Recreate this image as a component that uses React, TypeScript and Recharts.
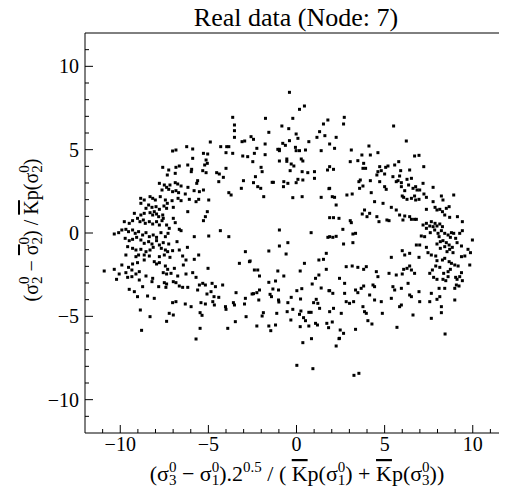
import React from "react";
import { ScatterChart, Scatter, XAxis, YAxis } from "recharts";

// values, grouped by part of the ring
const leftArc: [number, number][] = [
  [-7.03, 4.92], [-6.84, 4.98], [-5.89, 4.48], [-5.28, 4.78], [-5.04, 4.74], [-5.13, 4.38], [-5.21, 4.08], [-5.06, 4.18],
  [-4.0, 4.82], [-3.62, 4.78], [-3.05, 4.62], [-2.77, 4.58],
  [-7.59, 3.94], [-7.25, 3.78], [-6.84, 3.94], [-6.65, 4.02], [-6.17, 4.08], [-5.95, 3.82], [-5.97, 3.68], [-5.32, 3.74],
  [-5.13, 3.62], [-4.53, 3.62], [-4.38, 3.54], [-4.0, 3.88], [-7.33, 3.48], [-6.88, 3.58], [-5.61, 3.14], [-5.66, 2.98],
  [-4.41, 3.08], [-4.15, 3.34], [-3.01, 3.14], [-3.13, 2.68],
  [-7.78, 2.98], [-7.5, 2.88], [-7.37, 2.74], [-7.18, 2.88], [-6.88, 3.02], [-6.74, 2.94], [-6.55, 2.82], [-7.63, 2.58],
  [-7.25, 2.62], [-7.03, 2.48], [-6.84, 2.54], [-6.69, 2.42], [-6.31, 2.34], [-6.16, 2.74], [-5.81, 2.54], [-5.51, 2.48],
  [-5.28, 2.58], [-3.84, 2.42], [-3.71, 2.28],
  [-8.84, 2.08], [-8.64, 1.98], [-8.31, 2.18], [-8.16, 2.08], [-8.01, 1.98], [-7.73, 2.18], [-7.44, 1.98], [-7.33, 1.78],
  [-7.06, 1.94], [-6.72, 2.08], [-6.55, 1.94], [-6.08, 2.02], [-5.7, 1.88], [-5.55, 2.02], [-4.98, 1.98],
  [-8.83, 1.78], [-8.54, 1.48], [-8.39, 1.68], [-8.2, 1.54], [-7.97, 1.58], [-7.78, 1.42], [-7.52, 1.62], [-7.37, 1.48],
  [-6.99, 1.54], [-6.17, 1.28], [-5.06, 1.28],
  [-9.2, 1.18], [-8.83, 1.08], [-8.64, 1.18], [-8.31, 1.22], [-8.16, 1.08], [-8.07, 1.28], [-7.94, 1.14], [-7.82, 0.98],
  [-7.59, 1.08], [-7.56, 0.88], [-6.99, 0.88], [-6.88, 0.62], [-5.17, 0.98], [-5.28, 0.74],
  [-9.77, 0.68], [-9.49, 0.58], [-9.3, 0.74], [-9.02, 0.88], [-8.88, 0.68], [-8.69, 0.78], [-8.58, 0.58], [-8.35, 0.68],
  [-8.16, 0.54], [-7.94, 0.68], [-7.78, 0.48], [-7.63, 0.74], [-7.37, 0.48], [-7.22, 0.28], [-6.65, 0.22], [-6.55, 0.14],
  [-10.34, -0.06], [-10.09, 0.02], [-9.91, 0.18], [-9.68, 0.22], [-9.53, 0.08], [-9.3, 0.18], [-9.15, -0.02], [-8.96, 0.08],
  [-8.73, -0.12], [-8.54, 0.02], [-8.35, -0.22], [-8.13, -0.12], [-7.94, -0.26], [-7.69, 0.02], [-7.44, -0.22], [-7.29, -0.02],
  [-6.78, -0.52], [-5.8, -0.22], [-4.98, -0.18], [-4.32, 0.14], [-3.84, -0.22],
  [-9.72, -0.32], [-9.49, -0.46], [-9.3, -0.38], [-9.07, -0.26], [-8.83, -0.42], [-8.64, -0.62], [-8.39, -0.52], [-8.2, -0.66],
  [-7.94, -0.46], [-7.78, -0.72], [-7.56, -0.58], [-7.25, -0.66],
  [-9.58, -0.82], [-9.3, -0.92], [-9.11, -1.02], [-8.83, -0.98], [-8.54, -1.12], [-8.31, -1.02], [-8.13, -0.86], [-7.67, -0.92],
  [-7.44, -1.02], [-7.31, -1.12], [-7.03, -1.06], [-6.65, -1.02], [-6.19, -0.86], [-2.9, -1.12],
  [-9.68, -1.32], [-9.11, -1.42], [-8.96, -1.32], [-8.64, -1.32], [-8.35, -1.38], [-7.78, -1.42], [-7.5, -1.32], [-7.18, -1.46],
  [-6.46, -1.38], [-6.27, -1.62], [-5.8, -1.58], [-5.55, -1.32], [-3.24, -1.82], [-2.67, -1.72],
  [-9.91, -1.92], [-9.53, -2.06], [-9.3, -1.86], [-9.02, -1.78], [-8.64, -1.62], [-8.07, -1.72], [-7.94, -1.86], [-7.78, -1.78],
  [-7.44, -1.98], [-7.31, -2.18], [-6.93, -2.12], [-6.42, -1.92], [-5.02, -2.12],
  [-10.91, -2.28], [-10.34, -2.18], [-10.06, -2.46], [-9.68, -2.38], [-9.34, -2.22], [-9.11, -2.46], [-8.92, -2.32], [-8.54, -2.58],
  [-8.16, -2.72], [-7.56, -2.38], [-7.37, -2.46], [-7.12, -2.42], [-6.74, -2.58], [-6.27, -2.46], [-5.89, -2.38], [-5.7, -2.66],
  [-10.21, -2.78], [-9.58, -2.66], [-9.34, -2.62], [-8.92, -2.82], [-8.2, -2.92], [-7.82, -3.22], [-7.5, -2.98], [-7.37, -3.06],
  [-6.99, -2.92], [-6.84, -2.98], [-6.65, -3.18], [-6.46, -3.26], [-6.17, -3.26], [-5.51, -3.12], [-5.32, -3.02], [-5.17, -3.12],
  [-4.79, -3.02], [-4.6, -3.22], [-4.19, -3.12],
  [-9.49, -3.38], [-9.2, -3.52], [-8.73, -3.22], [-7.41, -3.26], [-5.61, -3.42], [-5.08, -3.66], [-4.85, -3.52], [-4.68, -3.82],
  [-4.41, -3.86], [-3.43, -3.58],
  [-9.02, -3.82], [-8.45, -3.78], [-8.07, -3.92], [-7.03, -4.18], [-6.84, -4.12], [-6.31, -4.26], [-5.98, -4.42], [-5.42, -4.18],
  [-5.17, -4.26], [-4.75, -4.12], [-4.66, -4.32], [-4.03, -4.42], [-4.0, -4.58], [-3.58, -4.18], [-3.52, -4.32], [-2.9, -3.92],
  [-2.95, -4.26],
  [-8.86, -4.62], [-8.31, -5.02], [-7.22, -4.82], [-6.99, -4.92], [-5.47, -4.78], [-5.36, -4.94], [-2.86, -5.02],
  [-8.79, -5.84], [-7.37, -5.3],
];

const topArc: [number, number][] = [
  [-0.4, 8.44], [0.45, 7.62], [0.17, 7.42], [-3.62, 6.94], [-3.52, 6.48], [-3.52, 6.14], [-3.52, 5.74], [-1.76, 6.88],
  [-1.57, 6.04], [-0.21, 6.88], [-0.83, 6.42], [-0.44, 6.26], [-0.02, 5.94], [0.08, 5.68], [-0.4, 5.54], [-0.78, 5.38],
  [-0.97, 5.02], [-0.63, 5.26], [0.7, 5.48], [1.16, 5.74], [1.31, 6.08], [1.61, 5.84], [1.53, 6.54], [1.78, 6.78],
  [-6.23, 5.18], [-5.89, 5.04], [-4.89, 5.46], [-3.96, 5.18], [-4.3, 5.18], [-3.84, 5.18], [-3.09, 5.48], [-2.94, 5.52],
  [-2.58, 5.78], [-2.44, 5.62], [-2.25, 5.08], [-1.78, 5.34], [-0.06, 5.14], [-1.06, 5.02], [2.71, 6.94],
  [-2.39, 4.78], [-2.48, 4.28], [-2.01, 3.94], [-1.95, 3.68], [-2.33, 3.38], [-2.2, 2.78], [-2.44, 3.02], [-2.03, 2.68],
  [-1.78, 4.7], [-1.38, 3.04], [-0.97, 4.32], [-0.97, 4.94], [-0.72, 3.08], [-0.49, 2.98], [-0.74, 2.78], [-0.55, 4.44],
  [-0.55, 4.3], [-0.3, 4.14], [-0.36, 3.74], [-0.15, 4.02], [-0.02, 4.94], [0.17, 4.94], [0.27, 4.44], [0.36, 4.32],
  [0.51, 4.98], [0.32, 3.68], [0.36, 3.18], [0.08, 3.22], [-0.02, 3.02], [0.64, 3.62], [1.02, 3.68], [1.02, 3.28],
  [1.4, 4.94], [1.76, 3.78], [1.84, 2.66], [-1.86, 2.18], [-0.21, 2.12], [0.32, 2.18], [1.4, 2.14], [-1.31, 3.04],
  [-0.97, 0.18], [-0.49, -0.58], [-0.97, -0.78], [-0.59, -1.26], [-1.57, -1.08], [0.83, 0.02], [1.78, -0.26], [1.69, -1.22],
  [1.53, -1.58], [1.27, -1.62],
];

const bottomArc: [number, number][] = [
  [-2.63, -1.68], [-2.39, -2.22], [-2.2, -2.22], [-2.1, -2.58], [-1.06, -2.28], [-0.72, -2.58], [0.21, -2.28], [0.45, -1.82],
  [1.69, -2.18], [1.27, -2.52], [1.08, -2.72], [-1.57, -2.96], [-1.19, -2.88], [0.89, -3.06], [-2.44, -3.64], [-2.25, -3.58],
  [-2.1, -3.42], [-1.34, -3.36], [-1.02, -3.42], [0.02, -3.46], [0.3, -3.34], [1.4, -3.3], [1.84, -3.46], [-2.52, -3.66],
  [-2.14, -4.02], [-1.5, -3.68], [-1.42, -3.82], [-1.02, -4.02], [-1.0, -4.14], [-0.49, -4.18], [-0.3, -3.86], [0.23, -3.96],
  [-0.21, -4.58], [1.12, -3.98], [0.97, -4.18], [1.21, -4.22], [1.31, -4.52], [-2.25, -5.58], [-1.95, -4.98], [-1.88, -4.78],
  [-1.57, -5.58], [-1.46, -5.86], [-1.19, -5.52], [-1.12, -4.82], [-0.53, -4.72], [-0.32, -5.22], [0.25, -4.68], [0.17, -4.88],
  [0.7, -4.76], [0.83, -4.76], [0.4, -5.08], [0.51, -5.26], [0.21, -5.62], [0.7, -5.58], [1.08, -5.42], [1.19, -5.52],
  [1.72, -5.42], [1.82, -5.68], [0.36, -6.58], [0.85, -6.34], [0.02, -7.94], [0.93, -8.14],
  [-3.47, -5.32], [-5.47, -5.72], [-3.9, -5.72], [-5.7, -6.36], [2.03, -5.34], [2.41, -6.34], [2.25, -6.78],
  [4.05, -5.26], [4.28, -5.46], [5.7, -5.66], [3.35, -5.78], [2.48, -5.82], [2.67, -6.02], [2.44, -6.32], [8.43, -6.06],
  [3.26, -8.54], [3.54, -8.42],
];

const rightArc: [number, number][] = [
  [2.67, 6.54], [5.51, 6.42], [2.25, 5.74], [1.88, 5.34], [2.16, 5.08], [6.23, 5.52], [3.11, 4.98], [4.11, 5.22],
  [4.62, 4.82], [3.71, 4.68], [4.19, 4.68], [6.7, 4.62], [6.95, 4.66], [3.05, 4.28], [3.48, 4.34], [3.81, 4.18],
  [3.77, 3.88], [3.92, 3.88], [4.72, 3.98], [5.06, 3.94], [5.19, 4.02], [5.57, 4.08], [5.8, 4.28], [7.22, 3.98],
  [1.88, 3.98], [2.1, 3.82], [4.62, 3.68], [4.81, 3.74], [5.91, 3.74], [6.42, 3.78], [5.0, 3.54], [4.56, 3.48],
  [5.47, 3.38], [5.85, 3.42], [3.54, 3.08], [3.62, 3.18], [4.19, 3.14], [4.72, 3.08], [5.66, 3.08], [5.76, 3.14],
  [5.95, 3.02], [6.27, 3.22], [6.52, 3.28], [7.18, 2.98], [6.76, 2.78], [6.61, 2.68], [6.84, 2.58], [6.99, 2.58],
  [1.88, 2.68], [2.03, 2.18], [2.16, 2.14], [2.86, 2.28], [3.16, 2.34], [3.58, 2.68], [3.77, 2.82], [4.24, 2.42],
  [5.0, 2.78], [5.09, 2.62], [5.95, 2.78], [6.14, 2.54], [6.36, 2.88], [6.0, 2.22], [6.08, 2.14], [6.27, 2.02],
  [6.52, 2.08], [6.7, 2.22], [6.76, 1.98], [6.95, 2.02], [7.23, 2.34], [7.37, 2.14], [7.75, 2.74], [8.22, 2.22],
  [8.31, 1.98], [8.92, 2.28], [2.25, 1.68], [4.43, 1.88], [4.91, 1.78], [5.38, 1.54], [5.66, 1.38], [3.86, 1.38],
  [3.73, 1.14], [4.15, 1.18], [4.0, 0.98], [4.56, 0.98], [5.85, 1.08], [6.14, 1.02], [6.42, 0.98], [6.7, 0.82],
  [6.04, 0.78], [6.52, 0.82], [6.8, 0.82], [7.37, 1.42], [7.75, 1.88], [7.86, 1.54], [7.97, 1.38], [8.13, 1.42],
  [8.28, 1.28], [8.5, 1.48], [8.66, 1.58], [8.41, 1.08], [8.69, 0.94], [9.13, 0.98], [9.41, 0.68], [1.88, 0.92],
  [2.1, 0.92], [2.41, 0.88], [3.05, 0.74], [3.11, 0.62], [4.68, 0.68], [5.13, 0.78], [5.25, 0.74], [2.63, 0.22],
  [7.18, 0.48], [7.37, 0.58], [7.37, 0.28], [7.56, 0.42], [7.65, 0.68], [7.75, 0.38], [7.86, 0.58], [7.97, 0.42],
  [8.13, 0.54], [8.28, 0.38], [7.59, 0.02], [7.84, 0.18], [8.03, -0.02], [8.22, 0.14], [8.41, -0.02], [8.6, -0.12],
  [8.79, 0.02], [8.73, -0.26], [8.92, -0.02], [9.03, -0.32], [9.26, -0.02], [9.41, 0.14], [1.88, -0.22], [2.06, -0.26],
  [2.25, -0.2], [3.2, -0.06], [3.35, -0.02], [2.67, -0.66], [3.2, -0.58], [7.08, -0.18], [6.99, -0.72], [6.8, -0.72],
  [7.27, -0.22], [8.09, -0.22], [8.16, -0.52], [8.31, -0.46], [8.5, -0.58], [8.66, -0.72], [8.84, -0.86], [9.11, -0.58],
  [9.36, -0.78], [9.73, -0.98], [9.98, -0.42], [7.97, -0.66], [8.16, -0.92], [8.41, -0.82], [8.54, -1.12], [8.69, -0.98],
  [8.88, -1.18], [7.37, -0.86], [7.46, -1.18], [5.38, -1.46], [6.0, -1.06], [6.14, -1.32], [6.42, -1.22], [6.95, -1.46],
  [7.65, -1.32], [7.9, -1.38], [7.97, -1.66], [8.28, -1.62], [8.41, -1.52], [8.66, -1.72], [8.79, -1.82], [8.98, -1.92],
  [9.17, -1.98], [9.55, -1.38], [9.87, -1.18], [9.83, -1.92], [9.36, -1.42], [2.82, -2.02], [3.16, -1.98], [3.48, -2.06],
  [3.81, -2.18], [3.96, -2.02], [4.53, -2.32], [4.62, -2.62], [5.25, -2.42], [5.66, -2.52], [6.42, -1.98], [6.27, -2.12],
  [6.08, -2.18], [6.0, -2.46], [6.52, -2.22], [6.7, -2.42], [7.56, -2.42], [7.71, -2.22], [7.9, -1.98], [8.13, -2.06],
  [8.35, -2.42], [8.6, -2.32], [8.73, -2.18], [9.03, -2.66], [9.11, -2.78], [9.26, -2.62], [9.36, -2.38], [9.41, -2.86],
  [9.22, -3.18], [8.6, -2.62], [7.78, -2.66], [7.97, -2.78], [8.31, -2.78], [8.47, -2.86], [2.44, -2.72], [2.73, -3.02],
  [3.81, -3.18], [4.34, -3.12], [4.43, -3.22], [3.67, -3.32], [5.47, -3.22], [5.57, -3.42], [5.95, -3.32], [6.33, -3.02],
  [6.95, -3.52], [7.65, -3.62], [8.09, -3.32], [8.41, -3.32], [8.98, -3.32], [9.07, -3.12], [1.88, -3.46], [2.06, -3.62],
  [2.73, -3.62], [3.35, -3.42], [3.48, -3.58], [4.15, -3.72], [4.43, -4.02], [4.81, -4.12], [5.38, -3.92], [6.42, -3.72],
  [5.95, -4.32], [6.52, -3.82], [6.99, -4.12], [7.56, -4.12], [7.97, -3.98], [8.13, -3.82], [8.22, -4.42], [8.22, -4.78],
  [8.98, -4.02], [1.88, -4.72], [2.1, -4.52], [2.54, -4.82], [2.82, -4.12], [3.01, -4.22], [3.24, -4.12], [3.77, -4.42],
  [3.86, -4.72], [3.96, -4.82], [4.87, -4.82], [5.85, -4.42], [6.61, -4.92], [7.65, -5.12],
];

// every unit gets a tick; multiples of 5 are the long, labelled ones
const axisTicks = [-11, -10, -9, -8, -7, -6, -5, -4, -3, -2, -1, 0, 1, 2, 3, 4, 5, 6, 7, 8, 9, 10, 11];

const points = [...leftArc, ...topArc, ...bottomArc, ...rightArc].map(([x, y]) => ({ x, y }));

const FONT = "'Liberation Serif', 'Times New Roman', serif";
const TICK_FONT = 20;
const line = { stroke: "#000", strokeWidth: 1 };
const isMajor = (v: number) => v % 5 === 0;
const fmt = (v: number) => (v < 0 ? "\u2212" + Math.abs(v) : String(v));

const Square = (props: any) => (
  <rect x={props.cx - 1.5} y={props.cy - 1.5} width={3} height={3} fill="#000" />
);

// tick drawn inward from the frame; (x, y) is the point on the axis line
const makeTick = (side: "bottom" | "top" | "left" | "right") => (props: any) => {
  const { x, y, payload } = props;
  const v = payload.value;
  const len = isMajor(v) ? 8 : 4;
  const d = { bottom: [0, -len], top: [0, len], left: [len, 0], right: [-len, 0] }[side];
  return (
    <g>
      <line x1={x} y1={y} x2={x + d[0]} y2={y + d[1]} stroke="#000" strokeWidth={1} />
      {side === "bottom" && isMajor(v) && (
        <text x={x} y={y + 18} textAnchor="middle" fontSize={TICK_FONT} fontFamily={FONT} fill="#000">{fmt(v)}</text>
      )}
      {side === "left" && isMajor(v) && (
        <text x={x - 6} y={y + 7} textAnchor="end" fontSize={TICK_FONT} fontFamily={FONT} fill="#000">{fmt(v)}</text>
      )}
    </g>
  );
};

const axisCommon = {
  type: "number" as const,
  domain: [-12, 12] as [number, number],
  allowDataOverflow: true,
  ticks: axisTicks,
  interval: 0 as const,
  tickSize: 0,
  tickMargin: 0,
  tickLine: false,
  axisLine: line,
};

const SUP = 15;
const bar = { textDecoration: "overline" };

export default function App() {
  return (
    <div style={{ position: "relative", width: 499, height: 481 }}>
      <div style={{ width: 499, height: 481, overflow: "hidden" }}>
        <ScatterChart width={510} height={481} margin={{ top: 24, right: 9, bottom: 55, left: 76 }}>
          <XAxis xAxisId={0} dataKey="x" height={1} {...axisCommon} tick={makeTick("bottom")} />
          <XAxis xAxisId="top" orientation="top" height={1} {...axisCommon} tick={makeTick("top")} />
          <YAxis yAxisId={0} dataKey="y" width={1} {...axisCommon} tick={makeTick("left")} />
          <YAxis yAxisId="right" orientation="right" width={1} {...axisCommon} tick={makeTick("right")} />
          <Scatter data={points} xAxisId={0} yAxisId={0} fill="#000" shape={Square} isAnimationActive={false} />
        </ScatterChart>
      </div>
      <svg width={507} height={489} style={{ position: "absolute", left: -8, top: -8, pointerEvents: "none" }}
        fontFamily={FONT} fill="#000">
        <text x={296} y={26} fontSize={26} textAnchor="middle">Real data (Node: 7)</text>
        <text x={297} y={481} fontSize={22} textAnchor="middle">
          <tspan>(σ</tspan>
          <tspan fontSize={SUP} dy={-9}>0</tspan>
          <tspan fontSize={SUP} dx={-7.5} dy={13}>3</tspan>
          <tspan dy={-4}> − σ</tspan>
          <tspan fontSize={SUP} dy={-9}>0</tspan>
          <tspan fontSize={SUP} dx={-7.5} dy={13}>1</tspan>
          <tspan dy={-4}>).2</tspan>
          <tspan fontSize={SUP} dy={-9}>0.5</tspan>
          <tspan dy={9}> / (  </tspan>
          <tspan style={bar}>K</tspan>
          <tspan>p(σ</tspan>
          <tspan fontSize={SUP} dy={-9}>0</tspan>
          <tspan fontSize={SUP} dx={-7.5} dy={13}>1</tspan>
          <tspan dy={-4}>) +  </tspan>
          <tspan style={bar}>K</tspan>
          <tspan>p(σ</tspan>
          <tspan fontSize={SUP} dy={-9}>0</tspan>
          <tspan fontSize={SUP} dx={-7.5} dy={13}>3</tspan>
          <tspan dy={-4}>))</tspan>
        </text>
        <text x={38} y={230} fontSize={20} textAnchor="middle" transform="rotate(-90 38 230)">
          <tspan>(σ</tspan>
          <tspan fontSize={SUP} dy={-9}>0</tspan>
          <tspan fontSize={SUP} dx={-7.5} dy={13}>2</tspan>
          <tspan dy={-4}> −  </tspan>
          <tspan style={bar}>σ</tspan>
          <tspan fontSize={SUP} dy={-9}>0</tspan>
          <tspan fontSize={SUP} dx={-7.5} dy={13}>2</tspan>
          <tspan dy={-4}>) /  </tspan>
          <tspan style={bar}>K</tspan>
          <tspan>p(σ</tspan>
          <tspan fontSize={SUP} dy={-9}>0</tspan>
          <tspan fontSize={SUP} dx={-7.5} dy={13}>2</tspan>
          <tspan dy={-4}>)</tspan>
        </text>
      </svg>
    </div>
  );
}
